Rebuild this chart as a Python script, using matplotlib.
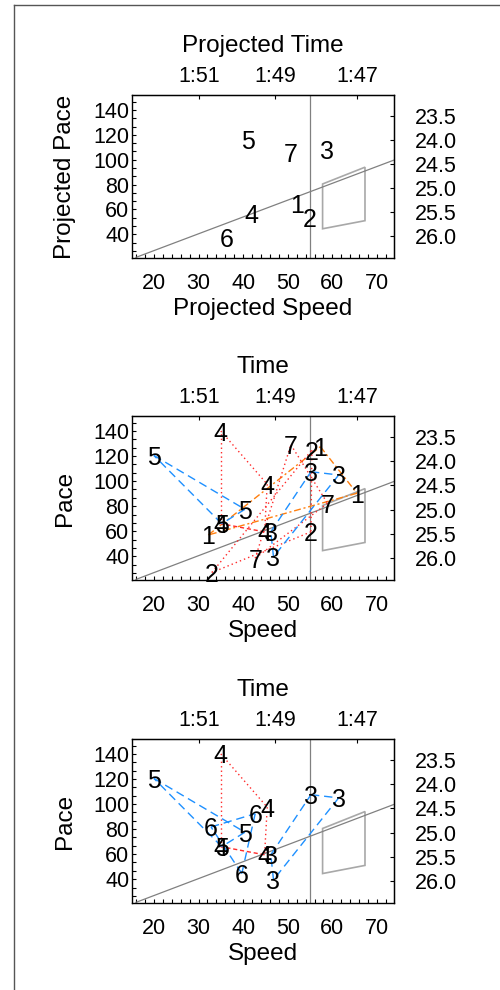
import matplotlib
matplotlib.use("Agg")

import matplotlib.pyplot as plt
from matplotlib.ticker import MultipleLocator
from matplotlib.patches import Polygon
from matplotlib.lines import Line2D

plt.rcParams['font.family'] = ['Liberation Sans', 'DejaVu Sans']

# axis ticks / labels
SPEED_TICKS = [20, 30, 40, 50, 60, 70]
PACE_TICKS = [40, 60, 80, 100, 120, 140]
TIME_AT_SPEED = [30.1, 47.1, 65.5]
TIME_LABELS = ["1:51", "1:49", "1:47"]
SPLIT_AT_PACE = [135.2, 115.8, 96.5, 77.1, 57.7, 38.4]
SPLIT_LABELS = ["23.5", "24.0", "24.5", "25.0", "25.5", "26.0"]

# reference guides
GUIDE_SPEED = 55
DIAG_SPEED = [16, 74]
DIAG_PACE = [21.5, 100]
BOX_SPEED = [57.8, 67.3, 67.3, 57.8]
BOX_PACE = [80.5, 94, 51, 44.5]

# projected values (top panel)
PROJ_IDS = ["1", "2", "3", "4", "5", "6", "7"]
PROJ_SPEED = [52.1, 55.0, 58.9, 41.9, 41.1, 36.3, 50.6]
PROJ_PACE = [65, 53.5, 108.6, 57, 116, 37.5, 106]

# measured values per athlete, in order
A1_SPEED = [32.2, 57.3, 65.5]
A1_PACE = [57, 127.5, 90.3]
A2_SPEED = [55.4, 55.2, 33.0]
A2_PACE = [124.8, 59.5, 27]
A3_SPEED = [46.2, 55.2, 61.4, 46.8]
A3_PACE = [59.5, 107.5, 104.9, 39.5]
A4_SPEED = [35.0, 35.0, 45.4, 44.8]
A4_PACE = [66, 140, 97.5, 59.5]
A5_SPEED = [20.0, 40.4, 35.2]
A5_PACE = [120.5, 77.5, 66]
A6_SPEED = [32.8, 42.7, 39.7]
A6_PACE = [81.7, 92.3, 44.5]
A7_SPEED = [50.7, 58.9, 42.7]
A7_PACE = [129, 82.3, 38.4]

BLUE = '#1e90ff'
ORANGE = '#ff7f0e'
RED = '#ff2a2a'
DASH = (0, (6, 3.5))
DASHDOT = (0, (5, 2, 1.5, 2))
DOT = (0, (1, 2.2))

TICK_FS = 15.5
LABEL_FS = 17.5
MARK_FS = 18

fig = plt.figure(figsize=(5, 9.9), dpi=100)
fig.add_artist(Line2D([0.028, 1.0], [0.995, 0.995], transform=fig.transFigure, color='#555555', lw=1))
fig.add_artist(Line2D([0.028, 0.028], [0.0, 0.995], transform=fig.transFigure, color='#555555', lw=1))


def setup(ax, xlabel, ylabel, toplabel):
    ax.set_xlim(15.1, 73.8)
    ax.set_ylim(21, 152)
    ax.set_xticks(SPEED_TICKS)
    ax.set_yticks(PACE_TICKS)
    ax.xaxis.set_minor_locator(MultipleLocator(2))
    ax.yaxis.set_minor_locator(MultipleLocator(20 / 3))
    ax.tick_params(which='both', direction='in', length=3, width=0.8, top=False, right=False)
    ax.tick_params(axis='x', labelsize=TICK_FS, pad=10.5)
    ax.tick_params(axis='y', labelsize=TICK_FS, pad=2)
    ax.set_xlabel(xlabel, fontsize=LABEL_FS, labelpad=3)
    ax.set_ylabel(ylabel, fontsize=LABEL_FS, labelpad=12)
    top = ax.secondary_xaxis('top')
    top.set_xticks(TIME_AT_SPEED, TIME_LABELS)
    top.tick_params(direction='in', length=3, width=0.8, labelsize=TICK_FS, pad=6)
    top.set_xlabel(toplabel, fontsize=LABEL_FS, labelpad=10)
    right = ax.secondary_yaxis('right')
    right.set_yticks(SPLIT_AT_PACE, SPLIT_LABELS)
    right.tick_params(direction='in', length=3, width=0.8, labelsize=TICK_FS, pad=15)
    for s in ax.spines.values():
        s.set_linewidth(1)
    ax.axvline(GUIDE_SPEED, color='#808080', lw=0.9)
    ax.plot(DIAG_SPEED, DIAG_PACE, color='#808080', lw=0.9)
    ax.add_patch(Polygon(list(zip(BOX_SPEED, BOX_PACE)), closed=True, fill=False,
                         edgecolor='#a8a8a8', lw=1.2))


def track(ax, label, xs, ys, color, ls, last_ls=None):
    # closed loop through the athlete's points
    n = len(xs)
    for i in range(n):
        j = (i + 1) % n
        style = last_ls if (last_ls is not None and j == 0) else ls
        ax.plot([xs[i], xs[j]], [ys[i], ys[j]], color=color, lw=1.0, linestyle=style)
    for x, y in zip(xs, ys):
        ax.text(x, y, label, fontsize=MARK_FS, ha='center', va='center_baseline')


# panel 1: projected
ax1 = fig.add_axes([0.264, 0.7394, 0.524, 0.1646])
setup(ax1, "Projected Speed", "Projected Pace", "Projected Time")
for lab, x, y in zip(PROJ_IDS, PROJ_SPEED, PROJ_PACE):
    ax1.text(x, y, lab, fontsize=MARK_FS, ha='center', va='center_baseline')

# panel 2: all athletes
ax2 = fig.add_axes([0.264, 0.4141, 0.524, 0.1657])
setup(ax2, "Speed", "Pace", "Time")
track(ax2, "1", A1_SPEED, A1_PACE, ORANGE, DASHDOT)
track(ax2, "2", A2_SPEED, A2_PACE, RED, DOT)
track(ax2, "7", A7_SPEED, A7_PACE, RED, DOT)
track(ax2, "4", A4_SPEED, A4_PACE, RED, DOT, (0, (3, 2)))
track(ax2, "5", A5_SPEED, A5_PACE, BLUE, DASH)
track(ax2, "3", A3_SPEED, A3_PACE, BLUE, DASH)

# panel 3: subset
ax3 = fig.add_axes([0.264, 0.0879, 0.524, 0.1657])
setup(ax3, "Speed", "Pace", "Time")
track(ax3, "4", A4_SPEED, A4_PACE, RED, DOT, (0, (3, 2)))
track(ax3, "5", A5_SPEED, A5_PACE, BLUE, DASH)
track(ax3, "6", A6_SPEED, A6_PACE, BLUE, DASH)
track(ax3, "3", A3_SPEED, A3_PACE, BLUE, DASH)

fig.savefig("out.png", dpi=100)
